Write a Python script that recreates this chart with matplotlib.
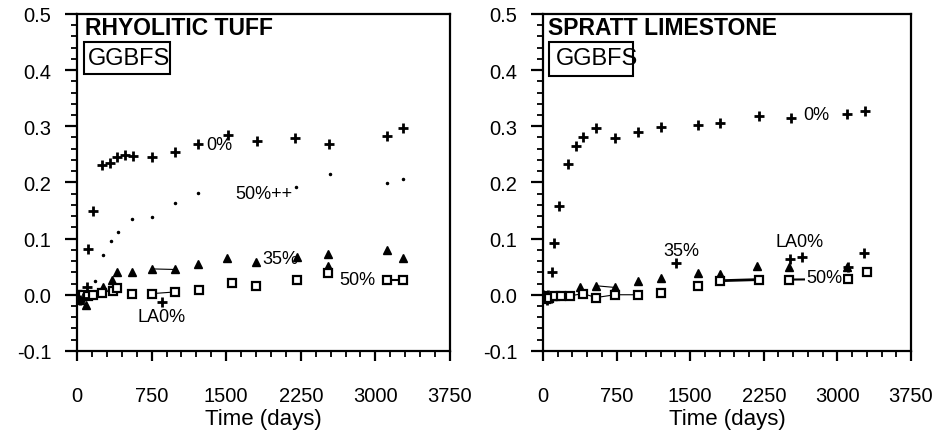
import numpy as np
import matplotlib.pyplot as plt
from matplotlib.ticker import MultipleLocator
from matplotlib.patches import Rectangle

plt.rcParams['font.family'] = ['Liberation Sans', 'DejaVu Sans']

# ---- Rhyolitic tuff (left panel) ----
rt_0_days = [0, 30, 60, 101, 111, 161, 250, 332, 402, 483, 563, 754, 985, 1216, 1518, 1809, 2192, 2535, 3114, 3277]
rt_0_exp = [0.0, -0.005, 0.0, 0.014, 0.082, 0.149, 0.231, 0.235, 0.246, 0.249, 0.247, 0.246, 0.255, 0.269, 0.285, 0.273, 0.279, 0.269, 0.282, 0.297]

rt_50pp_days = [181, 261, 342, 412, 553, 754, 985, 1216, 2200, 2545, 3117, 3277]
rt_50pp_exp = [0.025, 0.071, 0.095, 0.111, 0.134, 0.138, 0.163, 0.182, 0.191, 0.215, 0.199, 0.206]

rt_35_days = [30, 90, 261, 352, 402, 553, 754, 985, 1216, 1508, 1800, 2212, 2525, 2525, 3117, 3277]
rt_35_exp = [-0.010, -0.018, 0.013, 0.027, 0.041, 0.041, 0.046, 0.045, 0.055, 0.066, 0.058, 0.067, 0.073, 0.052, 0.079, 0.066]

rt_50_days = [0, 60, 110, 161, 250, 362, 402, 553, 754, 985, 1226, 1560, 1800, 2212, 2525, 3117, 3277]
rt_50_exp = [0.0, 0.0, -0.003, 0.0, 0.003, 0.007, 0.012, 0.002, 0.002, 0.005, 0.009, 0.021, 0.016, 0.027, 0.038, 0.027, 0.027]

rt_la_days = [0, 30, 60, 855]
rt_la_exp = [-0.005, -0.010, -0.005, -0.013]

# ---- Spratt limestone (right panel) ----
sl_0_days = [0, 20, 50, 92, 112, 163, 255, 336, 408, 540, 734, 968, 1202, 1579, 1804, 2201, 2527, 3098, 3281]
sl_0_exp = [0.0, -0.005, 0.0, 0.041, 0.093, 0.158, 0.233, 0.264, 0.281, 0.297, 0.279, 0.289, 0.299, 0.303, 0.305, 0.319, 0.315, 0.321, 0.328]

sl_35_days = [0, 50, 100, 200, 377, 540, 734, 968, 1202, 1579, 1804, 2181, 2507, 3098]
sl_35_exp = [0.0, -0.005, -0.003, 0.0, 0.013, 0.016, 0.013, 0.025, 0.030, 0.038, 0.037, 0.052, 0.049, 0.049]

sl_la_days = [0, 40, 80, 1355, 2517, 2640, 3108, 3271]
sl_la_exp = [-0.005, -0.010, -0.005, 0.056, 0.064, 0.068, 0.049, 0.074]

sl_50_days = [0, 30, 60, 120, 180, 275, 408, 540, 734, 968, 1202, 1579, 1804, 2201, 2507, 3108, 3302]
sl_50_exp = [-0.003, -0.008, -0.005, -0.003, -0.002, -0.002, 0.002, -0.005, 0.0, 0.0, 0.004, 0.016, 0.025, 0.027, 0.027, 0.028, 0.040]

xticks = [0, 750, 1500, 2250, 3000, 3750]
yticks = [-0.1, 0.0, 0.1, 0.2, 0.3, 0.4, 0.5]

fig = plt.figure(figsize=(9.43, 4.35), dpi=100)
ax1 = fig.add_axes([0.0817, 0.191, 0.3955, 0.7747])
ax2 = fig.add_axes([0.5758, 0.191, 0.3902, 0.7747])


def style(ax):
    ax.set_xlim(0, 3750)
    ax.set_ylim(-0.1, 0.5)
    ax.set_xticks(xticks)
    ax.set_yticks(yticks)
    ax.set_yticklabels(['%.1f' % v for v in yticks])
    ax.xaxis.set_minor_locator(MultipleLocator(150))
    ax.yaxis.set_minor_locator(MultipleLocator(0.02))
    ax.tick_params(which='major', direction='out', width=1.6, labelsize=14.5)
    ax.tick_params(axis='x', which='major', length=7.2, pad=18)
    ax.tick_params(axis='y', which='major', length=8.6, pad=10)
    ax.tick_params(which='minor', direction='out', width=1.3, length=4.3)
    for s in ax.spines.values():
        s.set_linewidth(1.6)
    ax.set_xlabel('Time (days)', fontsize=16, labelpad=2)


plus = dict(ls='none', marker='+', ms=7.5, mew=2.0, color='black')
tri = dict(ls='none', marker='^', ms=5.5, color='black')
sq = dict(ls='none', marker='s', ms=5.5, mfc='white', mec='black', mew=1.6)
dot = dict(ls='none', marker='.', ms=3, color='black')

# left panel
ax1.plot(rt_0_days, rt_0_exp, **plus)
ax1.plot(rt_50pp_days, rt_50pp_exp, **dot)
ax1.plot(rt_35_days[6:8], rt_35_exp[6:8], color='black', lw=0.8)
ax1.plot(rt_35_days, rt_35_exp, **tri)
ax1.plot(rt_50_days[8:10], rt_50_exp[8:10], color='black', lw=0.8)
ax1.plot(rt_50_days[-2:], rt_50_exp[-2:], color='black', lw=1.5)
ax1.plot(rt_50_days, rt_50_exp, **sq)
ax1.plot(rt_la_days, rt_la_exp, **plus)
ax1.text(1300, 0.267, '0%', fontsize=13, va='center')
ax1.text(1590, 0.181, '50%++', fontsize=13, va='center')
ax1.text(1860, 0.064, '35%', fontsize=13, va='center')
ax1.text(2640, 0.027, '50%', fontsize=13, va='center')
ax1.text(610, -0.038, 'LA0%', fontsize=13, va='center')
ax1.text(0.02, 0.961, 'RHYOLITIC TUFF', transform=ax1.transAxes, fontsize=16.5,
         fontweight='bold', va='center')
ax1.text(0.03, 0.869, 'GGBFS', transform=ax1.transAxes, fontsize=17, va='center')
ax1.add_patch(Rectangle((0.019, 0.822), 0.23, 0.095, transform=ax1.transAxes,
                        fill=False, lw=1.5, ec='black'))
style(ax1)

# right panel
ax2.plot(sl_50_days[:10], sl_50_exp[:10], color='black', lw=0.8)
ax2.plot(sl_35_days[5:7], sl_35_exp[5:7], color='black', lw=0.8)
ax2.plot(sl_50_days[12:14], sl_50_exp[12:14], color='black', lw=2.0)
ax2.plot(sl_50_days[14:16], sl_50_exp[14:16], color='black', lw=1.5)
ax2.plot(sl_0_days, sl_0_exp, **plus)
ax2.plot(sl_35_days, sl_35_exp, **tri)
ax2.plot(sl_la_days, sl_la_exp, **plus)
ax2.plot(sl_50_days, sl_50_exp, **sq)
ax2.text(2650, 0.321, '0%', fontsize=13, va='center')
ax2.text(1230, 0.078, '35%', fontsize=13, va='center')
ax2.text(2370, 0.094, 'LA0%', fontsize=13, va='center')
ax2.text(2680, 0.030, '50%', fontsize=13, va='center',
         bbox=dict(fc='white', ec='none', pad=0.5))
ax2.text(0.015, 0.961, 'SPRATT LIMESTONE', transform=ax2.transAxes, fontsize=16.5,
         fontweight='bold', va='center')
ax2.text(0.035, 0.869, 'GGBFS', transform=ax2.transAxes, fontsize=17, va='center')
ax2.add_patch(Rectangle((0.016, 0.816), 0.228, 0.101, transform=ax2.transAxes,
                        fill=False, lw=1.5, ec='black'))
style(ax2)

fig.savefig('out.png', dpi=100)
